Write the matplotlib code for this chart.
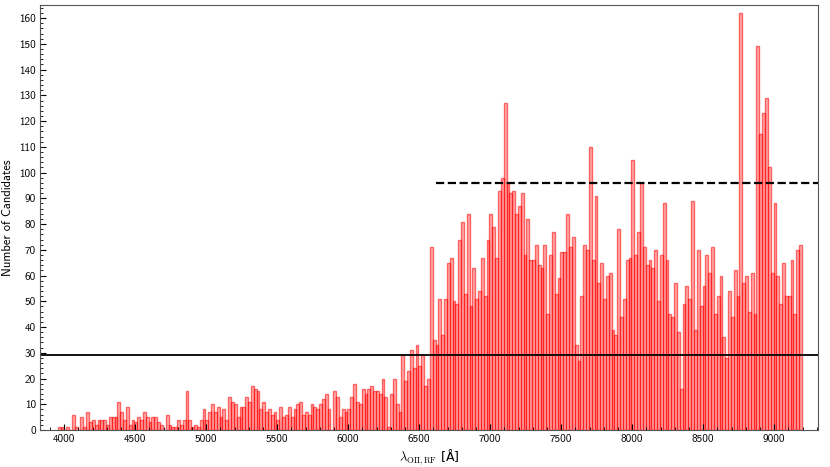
import numpy as np
import matplotlib
matplotlib.use("Agg")
import matplotlib.pyplot as plt
from matplotlib.ticker import MultipleLocator, AutoMinorLocator

plt.rcParams["font.family"] = ["cmss10", "DejaVu Sans"]
plt.rcParams["mathtext.fontset"] = "cm"
plt.rcParams["axes.unicode_minus"] = False

# histogram of rest-frame [OII] wavelengths, 20 A bins starting at 3955 A
BIN_START = 3955
BIN_WIDTH = 20
counts = [
    # 3955 - 4815
    1, 1, 0, 1, 0, 6, 1, 0, 5, 1, 7, 3, 4, 2, 4, 4, 4, 2, 5, 5, 5, 11, 7, 4,
    9, 2, 4, 3, 5, 4, 7, 5, 3, 5, 5, 3, 2, 0, 6, 2, 1, 1, 4,
    # 4815 - 5695
    2, 4, 15, 4, 1, 2, 1, 4, 8, 4, 7, 10, 7, 9, 5, 8, 4, 13, 11, 10, 5, 9, 9,
    13, 11, 17, 16, 15, 8, 11, 7, 8, 6, 7, 4, 9, 5, 6, 9, 5, 8, 10, 11, 6,
    # 5695 - 6575
    7, 6, 10, 9, 8, 10, 12, 14, 8, 0, 15, 13, 5, 8, 7, 8, 13, 18, 11, 10, 16,
    14, 16, 17, 15, 15, 14, 20, 13, 1, 14, 20, 10, 7, 29, 19, 23, 31, 24, 33,
    25, 29, 17, 20,
    # 6575 - 7455
    71, 35, 33, 51, 37, 51, 65, 67, 50, 49, 74, 81, 53, 84, 48, 63, 51, 54,
    67, 52, 74, 84, 79, 67, 93, 98, 127, 96, 92, 93, 84, 87, 92, 68, 82, 66,
    66, 72, 64, 63, 72, 45, 68, 77,
    # 7455 - 8335
    53, 59, 69, 69, 84, 71, 75, 33, 27, 52, 72, 70, 110, 66, 91, 57, 65, 51,
    60, 61, 39, 37, 78, 44, 51, 66, 67, 105, 68, 77, 96, 71, 64, 66, 63, 70,
    50, 68, 88, 66, 45, 44, 57, 38,
    # 8335 - 9195
    16, 49, 56, 51, 89, 39, 70, 48, 56, 68, 61, 71, 45, 52, 60, 36, 28, 54,
    44, 62, 52, 162, 57, 60, 46, 61, 45, 149, 115, 123, 129, 102, 61, 88, 60,
    49, 65, 52, 52, 66, 45, 70, 72,
]
upper_level = 96
lower_level = 29
dash_start = 6620

counts = np.array(counts)
left_edges = BIN_START + BIN_WIDTH * np.arange(len(counts))

fig = plt.figure(figsize=(8.3, 4.67), dpi=100)
ax = fig.add_axes([0.0482, 0.0792, 0.9373, 0.9095])

ax.bar(left_edges, counts, width=BIN_WIDTH, align="edge",
       facecolor=(1, 0, 0, 0.32), edgecolor=(1, 0, 0, 0.55), linewidth=1.0)

ax.axhline(lower_level, color="black", lw=1.3)
ax.hlines(upper_level, dash_start, 9308, color="black", lw=1.6,
          linestyles="--")

ax.set_xlim(3830, 9308)
ax.set_ylim(0, 165)
ax.xaxis.set_major_locator(MultipleLocator(500))
ax.yaxis.set_major_locator(MultipleLocator(10))
ax.xaxis.set_minor_locator(AutoMinorLocator())
ax.yaxis.set_minor_locator(AutoMinorLocator())
ax.tick_params(which="both", direction="in", labelsize=8, pad=3)
ax.tick_params(which="major", length=4)
ax.tick_params(which="minor", length=2)
for s in ax.spines.values():
    s.set_color("#555555")

ax.set_xlabel(r"$\lambda_{\rm OII,RF}$ [Å]", fontsize=9, labelpad=2,
              family=["DejaVu Sans"])
ax.set_ylabel("Number of Candidates", fontsize=9, labelpad=4)

fig.savefig("out.png", dpi=100)
